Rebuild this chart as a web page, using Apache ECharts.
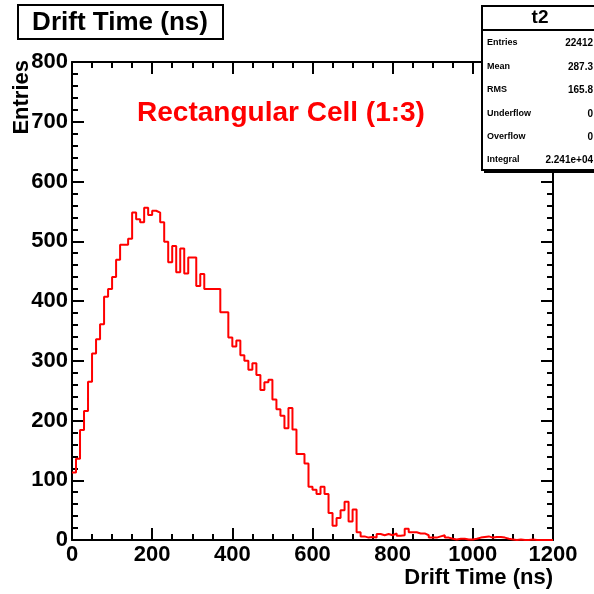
<!DOCTYPE html>
<html><head><meta charset="utf-8">
<script src="https://cdn.jsdelivr.net/npm/echarts/dist/echarts.min.js"></script>
<style>html,body{margin:0;padding:0;background:#fff}#c{width:594px;height:594px}</style>
</head><body><div id="c"></div>
<script>
// Histogram "t2": Drift Time (ns), 120 bins of 10 ns from 0 to 1200
const binWidth = 10;
const xMin = 0, xMax = 1200, xStep = 200;
const yMin = 0, yMax = 800, yStep = 100;
const counts = [
  113,136,184,216,265,312,336,361,407,420,440,469,
  494,494,504,548,537,532,556,544,551,548,532,499,
  465,492,448,488,446,473,473,425,445,420,420,420,
  420,381,381,339,324,334,309,300,285,296,276,251,
  264,268,235,219,208,187,221,185,144,144,128,89,
  84,77,89,77,45,24,37,50,64,31,51,13,
  6,4,5,4,10,8,10,8,11,7,8,19,
  13,13,11,11,8,4,4,6,8,4,2,1,
  2,2,1,1,2,4,5,6,4,5,5,4,
  2,1,0,1,0,0,1,0,0,0,0,0
];
const statLabels = ['Entries','Mean','RMS','Underflow','Overflow','Integral'];
const statValues = ['22412','287.3','165.8','0','0','2.241e+04'];
const histName = 't2';
const titleText = 'Drift Time (ns)';
const xTitle = 'Drift Time (ns)';
const yTitle = 'Entries';
const annotation = 'Rectangular Cell (1:3)';

const FF = '"Liberation Sans", Arial, Helvetica, sans-serif';
const pts = [];
counts.forEach((v, i) => { pts.push([i * binWidth, v]); pts.push([(i + 1) * binWidth, v]); });

function axisCommon(showLabel, isX) {
  return {
    type: 'value',
    min: isX ? xMin : yMin, max: isX ? xMax : yMax, interval: isX ? xStep : yStep,
    axisLine: { show: true, onZero: false, lineStyle: { color: '#000', width: 2 } },
    axisTick: { show: true, inside: true, length: 12, lineStyle: { color: '#000', width: 2 } },
    minorTick: { show: true, splitNumber: isX ? 4 : 5, length: 6, lineStyle: { color: '#000', width: 2 } },
    splitLine: { show: false },
    axisLabel: { show: showLabel, margin: 4, color: '#000', fontSize: 22, fontWeight: 'bold', fontFamily: FF,
                 showMinLabel: true, showMaxLabel: true, formatter: v => String(v) }
  };
}

const chart = echarts.init(document.getElementById('c'), null, { renderer: 'canvas' });
const graphic = [
  { type: 'rect', z: 100, shape: { x: 18, y: 5, width: 205, height: 34 }, style: { fill: '#fff', stroke: '#000', lineWidth: 2 } },
  { type: 'text', z: 101, x: 120, y: 23, style: { text: titleText, fontSize: 26, fontWeight: 'bold', fontFamily: FF, fill: '#000', align: 'center', verticalAlign: 'middle' } },
  { type: 'rect', z: 100, shape: { x: 484, y: 8, width: 120, height: 165 }, style: { fill: '#000' } },
  { type: 'rect', z: 101, shape: { x: 482, y: 6, width: 120, height: 164 }, style: { fill: '#fff', stroke: '#000', lineWidth: 2 } },
  { type: 'line', z: 102, shape: { x1: 482, y1: 30, x2: 600, y2: 30 }, style: { stroke: '#000', lineWidth: 2 } },
  { type: 'text', z: 102, x: 540, y: 18, style: { text: histName, fontSize: 19, fontWeight: 'bold', fontFamily: FF, fill: '#000', align: 'center', verticalAlign: 'middle' } },
  { type: 'text', z: 10, x: 281, y: 113, style: { text: annotation, fontSize: 28, fontWeight: 'bold', fontFamily: FF, fill: '#ff0000', align: 'center', verticalAlign: 'middle' } },
  { type: 'text', z: 10, x: 553, y: 578, style: { text: xTitle, fontSize: 22, fontWeight: 'bold', fontFamily: FF, fill: '#000', align: 'right', verticalAlign: 'middle' } },
  { type: 'text', z: 10, x: 22, y: 60, rotation: Math.PI / 2, style: { text: yTitle, fontSize: 22, fontWeight: 'bold', fontFamily: FF, fill: '#000', align: 'right', verticalAlign: 'middle' } }
];
const rowY = [43, 67, 90, 114, 137, 160];
statLabels.forEach((s, i) => {
  graphic.push({ type: 'text', z: 102, x: 487, y: rowY[i], style: { text: s, fontSize: 9, fontWeight: 'bold', fontFamily: FF, fill: '#000', align: 'left', verticalAlign: 'middle' } });
  graphic.push({ type: 'text', z: 102, x: 593, y: rowY[i], style: { text: statValues[i], fontSize: 10, fontWeight: 'bold', fontFamily: FF, fill: '#000', align: 'right', verticalAlign: 'middle' } });
});

chart.setOption({
  animation: false,
  backgroundColor: '#fff',
  grid: { left: 72, top: 62, right: 41, bottom: 54, containLabel: false },
  xAxis: [
    Object.assign(axisCommon(true, true), { position: 'bottom' }),
    Object.assign(axisCommon(false, true), { position: 'top' })
  ],
  yAxis: [
    Object.assign(axisCommon(true, false), { position: 'left' }),
    Object.assign(axisCommon(false, false), { position: 'right' })
  ],
  series: [{
    type: 'line', xAxisIndex: 0, yAxisIndex: 0, data: pts, showSymbol: false, symbol: 'none',
    lineStyle: { color: '#ff0000', width: 2 }, clip: true, z: 5
  }],
  graphic: graphic
});
</script></body></html>
